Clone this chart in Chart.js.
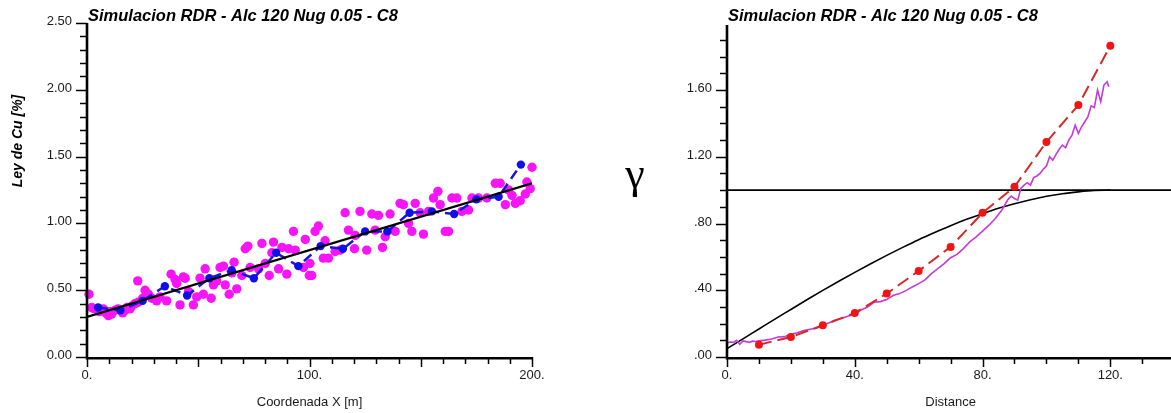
<!DOCTYPE html>
<html lang="es">
<head>
<meta charset="UTF-8">
<title>Simulacion RDR - Alc 120 Nug 0.05 - C8</title>
<script src="https://cdn.jsdelivr.net/npm/chart.js"></script>
<style>
  body { margin: 0; background: #fff; width: 1171px; height: 413px; overflow: hidden; position: relative; }
  canvas { position: absolute; top: 0; display: block; }
  #profileChart { left: 0; }
  #variogramChart { left: 580px; }
</style>
</head>
<body>
<canvas id="profileChart" width="580" height="413"></canvas>
<canvas id="variogramChart" width="591" height="413"></canvas>

<script>
// ---- perfil de ley: datos simulados a lo largo de X ----
const cuX = [0.9, 2.1, 3.5, 5.5, 7.3, 8.5, 9.6, 10.3, 11, 12.6, 14, 16, 17.1, 18, 19.3, 20, 21.6, 22.8, 23, 25,
  26.1, 27.6, 29.1, 31.3, 32.8, 35.8, 37.8, 39.6, 40.3, 41.8, 43.3, 44.1, 45.6, 47.8, 49.3, 50.8, 52.3, 53.1,
  55.8, 56.8, 58.3, 59.8, 61.3, 62.1, 63.9, 65.1, 66.1, 67.3, 69.6, 71.1, 72.3, 73.3, 77.1, 78.6, 80.1, 81.9,
  83.1, 83.8, 86.1, 87.6, 89.8, 90.6, 92.8, 93.6, 97.3, 98.1, 99.9, 100.2, 101, 102.5, 104, 106.2, 107,
  108.5, 111.5, 113.7, 116, 117.5, 120.2, 120.5, 122.7, 125.7, 128, 129.5, 131, 132.8, 134, 136.2, 138.5,
  140.7, 142.2, 144.5, 146, 147.5, 149.7, 151.2, 153.5, 155.7, 157.7, 158.7, 161, 162.5, 164, 166.2, 168.5,
  171.5, 173, 176, 179.7, 183.5, 185.7, 188, 189.5, 191, 192.5, 194.7, 197, 197.7, 199.2, 200];
const cuY = [0.47, 0.37, 0.36, 0.34, 0.36, 0.33, 0.31, 0.34, 0.32, 0.35, 0.36, 0.33, 0.35, 0.37, 0.36, 0.38,
  0.40, 0.57, 0.41, 0.44, 0.50, 0.47, 0.44, 0.42, 0.45, 0.42, 0.62, 0.58, 0.55, 0.39, 0.60, 0.59, 0.49, 0.39,
  0.45, 0.59, 0.47, 0.66, 0.44, 0.54, 0.57, 0.67, 0.68, 0.54, 0.47, 0.63, 0.71, 0.51, 0.61, 0.81, 0.83, 0.67,
  0.66, 0.85, 0.70, 0.61, 0.78, 0.86, 0.66, 0.82, 0.62, 0.81, 0.94, 0.80, 0.67, 0.88, 0.61, 0.70, 0.61, 0.94,
  0.98, 0.74, 0.87, 0.74, 0.79, 0.80, 1.08, 0.95, 0.81, 0.91, 1.09, 0.80, 1.07, 0.95, 1.06, 0.82, 0.90, 1.07,
  0.94, 1.15, 1.14, 1.00, 0.94, 1.15, 1.08, 0.92, 1.09, 1.19, 1.24, 1.14, 0.94, 0.94, 1.19, 1.19, 1.09, 1.10,
  1.19, 1.19, 1.19, 1.30, 1.30, 1.14, 1.25, 1.21, 1.15, 1.17, 1.22, 1.31, 1.26, 1.42];

// promedio cada 10 m
const avgX = [5, 15, 25, 35, 45, 55, 65, 75, 85, 95, 105, 115, 125, 135, 145, 155, 165, 175, 185, 195];
const avgY = [0.37, 0.35, 0.42, 0.53, 0.46, 0.59, 0.65, 0.59, 0.78, 0.68, 0.83, 0.81, 0.94, 0.94, 1.08, 1.09,
  1.07, 1.18, 1.20, 1.44];

// tendencia lineal
const trendX = [0, 200];
const trendY = [0.30, 1.30];

const profXTicks = [0, 100, 200];
const profXLabels = ['0.', '100.', '200.'];
const profYTicks = [0, 0.5, 1, 1.5, 2, 2.5];
const profYLabels = ['0.00', '0.50', '1.00', '1.50', '2.00', '2.50'];

// ---- variograma ----
const expLag = [0, 1, 2, 3, 4, 5, 6, 7, 8, 9, 10, 12, 14, 16, 18, 20, 22, 24, 26, 28, 30, 32, 34, 36, 38, 40,
  42, 44, 46, 48, 50, 52, 54, 56, 58, 60, 62, 64, 66, 68, 70, 72, 74, 76, 78, 80, 82, 84, 86, 88, 89, 90, 91,
  92, 93, 94, 95, 96, 97, 98, 99, 100, 101, 102, 103, 104, 105, 106, 107, 108, 109, 110, 111, 112, 113, 114,
  115, 116, 117, 118, 119, 119.5];
const expGamma = [0.084, 0.090, 0.088, 0.100, 0.076, 0.096, 0.092, 0.088, 0.095, 0.093, 0.097, 0.101, 0.108,
  0.120, 0.122, 0.136, 0.145, 0.158, 0.166, 0.172, 0.192, 0.205, 0.222, 0.232, 0.246, 0.255, 0.282, 0.300,
  0.328, 0.332, 0.345, 0.368, 0.380, 0.398, 0.420, 0.440, 0.462, 0.500, 0.530, 0.560, 0.595, 0.615, 0.650,
  0.690, 0.720, 0.755, 0.790, 0.830, 0.880, 0.945, 0.965, 0.950, 0.940, 1.010, 1.030, 1.045, 1.030, 1.075,
  1.085, 1.100, 1.125, 1.145, 1.200, 1.180, 1.215, 1.245, 1.270, 1.255, 1.300, 1.330, 1.390, 1.340, 1.380,
  1.410, 1.440, 1.505, 1.495, 1.600, 1.530, 1.630, 1.650, 1.620];

const avgLag = [10, 20, 30, 40, 50, 60, 70, 80, 90, 100, 110, 120];
const avgGamma = [0.074, 0.120, 0.190, 0.264, 0.380, 0.516, 0.660, 0.864, 1.020, 1.289, 1.510, 1.865];

const modelLag = [0, 5, 10, 15, 20, 25, 30, 35, 40, 45, 50, 55, 60, 65, 70, 75, 80, 85, 90, 95, 100, 105, 110,
  115, 120];
const modelGamma = [0.05, 0.109, 0.168, 0.227, 0.285, 0.343, 0.399, 0.454, 0.507, 0.559, 0.609, 0.657, 0.703,
  0.746, 0.787, 0.825, 0.859, 0.891, 0.918, 0.942, 0.963, 0.979, 0.990, 0.998, 1.0];

const sillLag = [0, 139];
const sillGamma = [1.0, 1.0];

const varXTicks = [0, 40, 80, 120];
const varXLabels = ['0.', '40.', '80.', '120.'];
const varYTicks = [0, 0.4, 0.8, 1.2, 1.6];
const varYLabels = ['.00', '.40', '.80', '1.20', '1.60'];

const TITLE = 'Simulacion RDR - Alc 120 Nug 0.05 - C8';
const SANS = '"Liberation Sans", Arial, sans-serif';

const pts = (xs, ys) => xs.map((v, i) => ({ x: v, y: ys[i] }));

// ejes con marcas mayores/menores, etiquetas y titulos
const axisFrame = {
  id: 'axisFrame',
  afterDatasetsDraw(chart, args, o) {
    const ctx = chart.ctx;
    const xs = chart.scales.x, ys = chart.scales.y;
    const a = chart.chartArea;
    const isMajor = (v, step) => Math.abs(v / step - Math.round(v / step)) < 1e-6;
    ctx.save();
    ctx.strokeStyle = '#000';
    ctx.lineCap = 'butt';

    // marcas eje Y
    ctx.lineWidth = 1.5;
    for (let i = 0; ys.min + i * o.yMinor <= ys.max + 1e-9; i++) {
      const v = ys.min + i * o.yMinor;
      const py = Math.round(ys.getPixelForValue(v)) + 0.5;
      const len = isMajor(v, o.yMajor) ? 11 : 7;
      ctx.beginPath();
      ctx.moveTo(a.left - len, py);
      ctx.lineTo(a.left, py);
      ctx.stroke();
    }
    // marcas eje X
    for (let i = 0; xs.min + i * o.xMinor <= xs.max + 1e-9; i++) {
      const v = xs.min + i * o.xMinor;
      const px = Math.round(xs.getPixelForValue(v)) + 0.5;
      const len = isMajor(v, o.xMajor) ? 10 : 7;
      ctx.beginPath();
      ctx.moveTo(px, a.bottom);
      ctx.lineTo(px, a.bottom + len);
      ctx.stroke();
    }

    // lineas de ejes
    ctx.lineWidth = 2.6;
    ctx.beginPath();
    ctx.moveTo(a.left, a.top);
    ctx.lineTo(a.left, a.bottom + 1.3);
    ctx.lineTo(a.right, a.bottom + 1.3);
    ctx.stroke();

    // etiquetas
    ctx.fillStyle = '#1a1a1a';
    ctx.font = '13px ' + SANS;
    ctx.textAlign = 'right';
    ctx.textBaseline = 'alphabetic';
    o.yTicks.forEach((v, i) => {
      ctx.fillText(o.yLabels[i], a.left - 15, ys.getPixelForValue(v) + 2);
    });
    ctx.textAlign = 'center';
    ctx.textBaseline = 'middle';
    o.xTicks.forEach((v, i) => {
      ctx.fillText(o.xLabels[i], xs.getPixelForValue(v), a.bottom + 18);
    });
    ctx.fillText(o.xTitle, (xs.getPixelForValue(o.xTitleAt)), 402);

    // titulo
    ctx.fillStyle = '#000';
    ctx.font = 'italic bold 16.5px ' + SANS;
    ctx.textAlign = 'left';
    ctx.textBaseline = 'alphabetic';
    ctx.fillText(o.title, a.left + 1, 21);

    // titulo eje Y
    if (o.yTitleRotate) {
      ctx.save();
      ctx.translate(o.yTitleX, o.yTitleY);
      ctx.rotate(-Math.PI / 2);
      ctx.font = o.yTitleFont;
      ctx.textAlign = 'center';
      ctx.textBaseline = 'middle';
      ctx.fillText(o.yTitle, 0, 0);
      ctx.restore();
    } else {
      ctx.font = o.yTitleFont;
      ctx.textAlign = 'center';
      ctx.textBaseline = 'alphabetic';
      ctx.fillText(o.yTitle, o.yTitleX, o.yTitleY);
    }
    ctx.restore();
  }
};

const baseOptions = (pad, xr, yr, deco) => ({
  responsive: false,
  animation: false,
  events: [],
  layout: { padding: pad, autoPadding: false },
  scales: {
    x: { type: 'linear', min: xr[0], max: xr[1], display: false },
    y: { type: 'linear', min: yr[0], max: yr[1], display: false }
  },
  plugins: { legend: { display: false }, tooltip: { enabled: false }, axisFrame: deco }
});

new Chart(document.getElementById('profileChart'), {
  type: 'scatter',
  plugins: [axisFrame],
  data: {
    datasets: [
      {
        label: 'Simulacion',
        data: pts(cuX, cuY),
        showLine: false,
        pointRadius: 4.7,
        pointBackgroundColor: '#f714f7',
        pointBorderWidth: 0,
        clip: false,
        order: 3
      },
      {
        label: 'Promedio',
        data: pts(avgX, avgY),
        showLine: true,
        borderColor: '#1616d8',
        borderWidth: 2.5,
        borderDash: [10, 6],
        pointRadius: 4.2,
        pointBackgroundColor: '#1010e6',
        pointBorderWidth: 0,
        clip: false,
        order: 2
      },
      {
        label: 'Tendencia',
        data: pts(trendX, trendY),
        showLine: true,
        borderColor: '#000',
        borderWidth: 2.2,
        pointRadius: 0,
        order: 1
      }
    ]
  },
  options: baseOptions({ left: 87, top: 23, right: 48, bottom: 56 }, [0, 200], [0, 2.5], {
    xMinor: 10, xMajor: 50, yMinor: 0.1, yMajor: 0.5,
    xTicks: profXTicks, xLabels: profXLabels, yTicks: profYTicks, yLabels: profYLabels,
    xTitle: 'Coordenada X [m]', xTitleAt: 100,
    title: TITLE,
    yTitle: 'Ley de Cu [%]', yTitleRotate: true, yTitleX: 18, yTitleY: 141,
    yTitleFont: 'italic bold 14px ' + SANS
  })
});

new Chart(document.getElementById('variogramChart'), {
  type: 'scatter',
  plugins: [axisFrame],
  data: {
    datasets: [
      {
        label: 'Meseta',
        data: pts(sillLag, sillGamma),
        showLine: true,
        borderColor: '#000',
        borderWidth: 1.6,
        pointRadius: 0,
        order: 4
      },
      {
        label: 'Modelo',
        data: pts(modelLag, modelGamma),
        showLine: true,
        borderColor: '#000',
        borderWidth: 1.6,
        cubicInterpolationMode: 'monotone',
        pointRadius: 0,
        order: 3
      },
      {
        label: 'Experimental',
        data: pts(expLag, expGamma),
        showLine: true,
        borderColor: '#c53ad8',
        borderWidth: 1.6,
        pointRadius: 0,
        order: 2
      },
      {
        label: 'Promedio',
        data: pts(avgLag, avgGamma),
        showLine: true,
        borderColor: '#d42a2a',
        borderWidth: 2,
        borderDash: [13, 6],
        pointRadius: 4,
        pointBackgroundColor: '#f01414',
        pointBorderWidth: 0,
        clip: false,
        order: 1
      }
    ]
  },
  options: baseOptions({ left: 147, top: 25, right: 0, bottom: 56 }, [0, 139], [0, 1.99], {
    xMinor: 10, xMajor: 40, yMinor: 0.1, yMajor: 0.4,
    xTicks: varXTicks, xLabels: varXLabels, yTicks: varYTicks, yLabels: varYLabels,
    xTitle: 'Distance', xTitleAt: 70,
    title: TITLE,
    yTitle: 'γ', yTitleRotate: false, yTitleX: 55, yTitleY: 188,
    yTitleFont: '44px "Liberation Serif", "DejaVu Serif", serif'
  })
});
</script>
</body>
</html>
